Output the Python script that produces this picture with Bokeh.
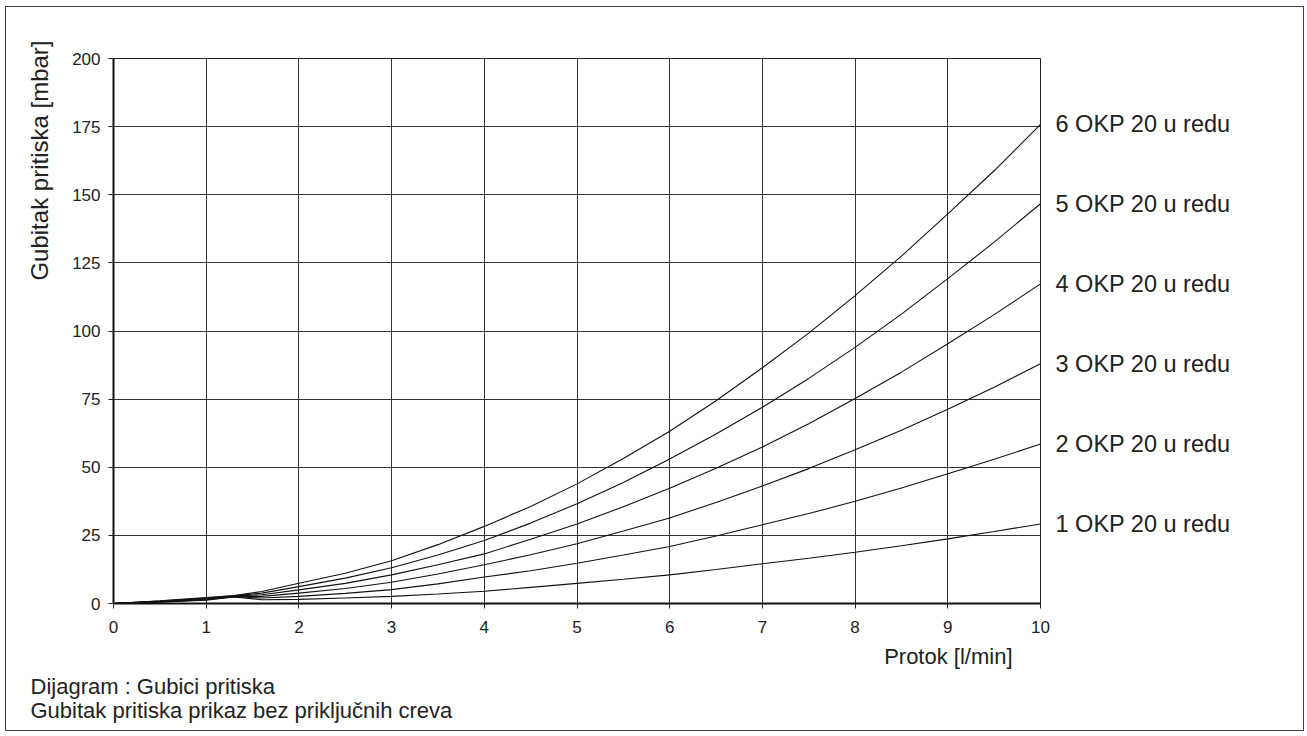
from bokeh.plotting import figure
from bokeh.models import Range1d, FixedTicker, LinearAxis, Title, InlineStyleSheet
from bokeh.embed import file_html
from bokeh.resources import INLINE

# ---- data ----
flow = [0, 0.5, 1, 1.3, 1.6, 2, 2.5, 3, 3.5, 4, 4.5, 5, 5.5, 6, 6.5, 7, 7.5, 8, 8.5, 9, 9.5, 10]

okp1 = [0, 0.5, 1.2, 2.4, 1.4, 1.5, 2.0, 2.6, 3.5, 4.5, 5.9, 7.4, 8.9, 10.5, 12.5, 14.6, 16.6, 18.8, 21.2, 23.7, 26.4, 29.2]
okp2 = [0, 0.6, 1.4, 2.5, 2.0, 2.6, 3.7, 5.1, 7.2, 9.7, 12.0, 14.8, 17.8, 20.9, 24.8, 28.9, 33.0, 37.5, 42.4, 47.6, 52.9, 58.5]
okp3 = [0, 0.7, 1.6, 2.6, 2.6, 3.8, 5.5, 7.8, 10.8, 14.2, 17.9, 21.9, 26.6, 31.4, 37.1, 43.1, 49.5, 56.4, 63.6, 71.3, 79.4, 88.0]
okp4 = [0, 0.8, 1.8, 2.7, 3.2, 5.0, 7.4, 10.5, 14.2, 18.2, 23.6, 29.2, 35.5, 42.3, 49.6, 57.4, 66.0, 75.2, 84.9, 95.3, 106.0, 117.3]
okp5 = [0, 0.9, 2.0, 2.8, 3.8, 6.2, 9.3, 13.1, 17.8, 23.1, 29.5, 36.6, 44.4, 53.0, 62.2, 72.0, 82.6, 94.0, 106.2, 119.2, 132.6, 146.7]
okp6 = [0, 1.0, 2.2, 2.9, 4.4, 7.4, 11.1, 15.7, 21.6, 28.3, 35.6, 43.9, 53.2, 63.2, 74.4, 86.5, 99.2, 113.0, 127.5, 143.0, 158.8, 175.8]

series = [okp1, okp2, okp3, okp4, okp5, okp6]
series_names = ["1 OKP 20 u redu", "2 OKP 20 u redu", "3 OKP 20 u redu",
                "4 OKP 20 u redu", "5 OKP 20 u redu", "6 OKP 20 u redu"]

x_ticks = [0, 1, 2, 3, 4, 5, 6, 7, 8, 9, 10]
y_ticks = [0, 25, 50, 75, 100, 125, 150, 175, 200]

y_title = "Gubitak pritiska [mbar]"
x_title = "Protok [l/min]"
note1 = "Dijagram : Gubici pritiska"
note2 = "Gubitak pritiska prikaz bez priključnih creva"

FONT = "Liberation Sans"
TXT = "#222222"
W, H = 1302, 733

frame_css = InlineStyleSheet(css="""
:host { position: relative; }
:host::after {
  content: ""; position: absolute; left: 5px; top: 6px;
  width: 1299px; height: 725px; box-sizing: border-box;
  border: 1.3px solid #444; pointer-events: none; z-index: 100;
}
""")

p = figure(width=W, height=H, output_backend="svg", toolbar_location=None,
           x_range=Range1d(0, 10), y_range=Range1d(0, 200),
           min_border_left=113, min_border_right=W - 1040,
           min_border_top=58, min_border_bottom=H - 603)
p.stylesheets = [frame_css]
p.background_fill_color = "white"
p.border_fill_color = "white"
p.outline_line_color = "#222222"
p.outline_line_width = 1

for ax, ticks in ((p.xaxis, x_ticks), (p.yaxis, y_ticks)):
    ax.ticker = FixedTicker(ticks=ticks)
    ax.axis_line_color = "#111111"
    ax.axis_line_width = 2
    ax.major_tick_line_color = "#222222"
    ax.major_tick_out = 5
    ax.major_tick_in = 0
    ax.minor_tick_line_color = None
    ax.major_label_text_font = FONT
    ax.major_label_text_font_size = "17px"
    ax.major_label_text_color = TXT
p.xaxis.major_label_standoff = 12
p.yaxis.major_label_standoff = 8

for g, ticks in ((p.xgrid, x_ticks), (p.ygrid, y_ticks)):
    g.ticker = FixedTicker(ticks=ticks)
    g.grid_line_color = "#333333"
    g.grid_line_width = 1

for ys in series:
    p.line(flow, ys, line_color="#111111", line_width=1.1)

# series names at the curve ends, drawn as a right-side axis
ends = [ys[-1] for ys in series]
rax = LinearAxis(ticker=FixedTicker(ticks=ends),
                 major_label_overrides={e: n for e, n in zip(ends, series_names)})
rax.axis_line_color = None
rax.major_tick_line_color = None
rax.minor_tick_line_color = None
rax.major_label_standoff = 9
rax.major_label_text_font = FONT
rax.major_label_text_font_size = "23.5px"
rax.major_label_text_color = TXT
p.add_layout(rax, "right")

# y title on the left, aligned toward the top
p.add_layout(Title(text=y_title, align="right", offset=-18, text_font=FONT,
                   text_font_size="24px", text_font_style="normal",
                   text_color=TXT, standoff=33), "left")

# x title and notes below
p.add_layout(Title(text=x_title, align="right", offset=28, text_font=FONT,
                   text_font_size="22px", text_font_style="normal",
                   text_color=TXT, standoff=13), "below")
p.add_layout(Title(text=note1, align="left", offset=-83, text_font=FONT,
                   text_font_size="22px", text_font_style="normal",
                   text_color=TXT, standoff=-7), "below")
p.add_layout(Title(text=note2, align="left", offset=-83, text_font=FONT,
                   text_font_size="22px", text_font_style="normal",
                   text_color=TXT, standoff=0), "below")

open("out.html", "w").write(file_html(p, INLINE))
